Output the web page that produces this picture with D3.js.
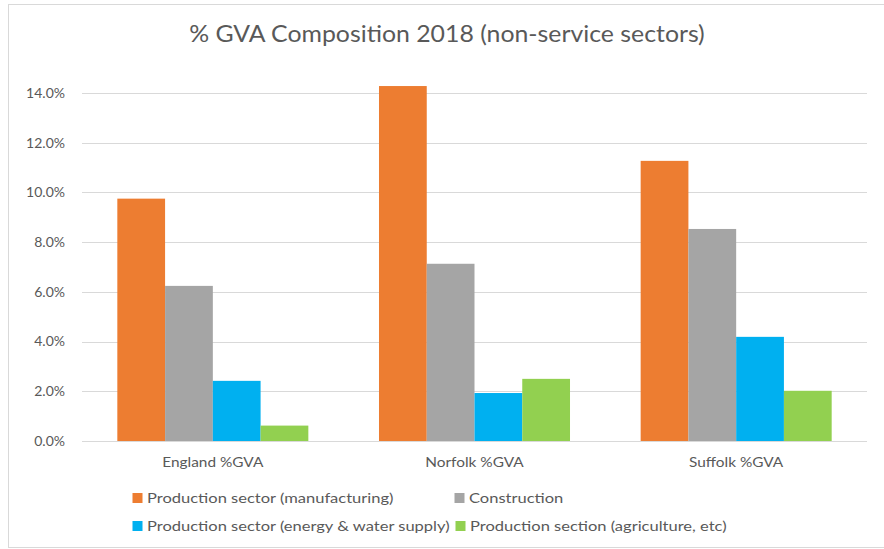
<!DOCTYPE html>
<html><head><meta charset="utf-8">
<script src="https://cdn.jsdelivr.net/npm/d3@7"></script>
<style>
html,body{margin:0;padding:0;background:#fff;}
svg text{font-family:Lato,"Open Sans",sans-serif;fill:#595959;}
</style></head>
<body><svg id="c" width="884" height="549"></svg>
<script>
const categories = ["England %GVA", "Norfolk %GVA", "Suffolk %GVA"];
const seriesNames = ["Production sector (manufacturing)", "Construction", "Production sector (energy & water supply)", "Production section (agriculture, etc)"];
const manufacturing = [9.75, 14.28, 11.27];
const construction = [6.24, 7.13, 8.53];
const energy = [2.42, 1.93, 4.19];
const agriculture = [0.62, 2.50, 2.02];
const yTicks = [0, 2, 4, 6, 8, 10, 12, 14];
const colors = ["#ED7D31", "#A5A5A5", "#00B0F0", "#92D050"];
const series = [manufacturing, construction, energy, agriculture];

(function(){
const svg = d3.select("#c");
svg.append("rect").attr("x",8.5).attr("y",4.5).attr("width",884).attr("height",543)
  .attr("fill","none").attr("stroke","#D9D9D9").attr("stroke-width",1);

const pL=82, pR=867, pT=93, pB=441;
const y = d3.scaleLinear().domain([0,14]).range([pB, pT]);
const x0 = d3.scaleBand().domain(categories).range([pL,pR]).paddingInner(0.27).paddingOuter(0.135);
const x1 = d3.scaleBand().domain(d3.range(series.length)).range([0, x0.bandwidth()]);

svg.append("g").selectAll("line").data(yTicks).join("line")
  .attr("x1",pL).attr("x2",pR)
  .attr("y1",d=>Math.round(y(d))+0.5).attr("y2",d=>Math.round(y(d))+0.5)
  .attr("stroke","#D9D9D9").attr("stroke-width",1);

svg.append("g").selectAll("text").data(yTicks).join("text")
  .attr("x",65).attr("y",d=>y(d)).attr("dy","0.35em").attr("text-anchor","end")
  .attr("font-size",14).text(d=>d3.format(".1f")(d)+"%");

const g = svg.append("g");
categories.forEach((c,i)=>{
  series.forEach((s,j)=>{
    g.append("rect").attr("x",x0(c)+x1(j)).attr("width",x1.bandwidth())
      .attr("y",y(s[i])).attr("height",y(0)-y(s[i])).attr("fill",colors[j]);
  });
});

svg.append("g").selectAll("text").data(categories).join("text")
  .attr("transform",d=>`translate(${x0(d)+x0.bandwidth()/2},467) scale(1.1,1)`)
  .attr("text-anchor","middle")
  .attr("font-size",14).text(d=>d);

svg.append("text").attr("transform","translate(447,42) scale(1.08,1)").attr("text-anchor","middle")
  .attr("font-size",23).text("% GVA Composition 2018 (non-service sectors)");

const legPos = [[132.5,503],[454.5,503],[132.5,531],[455.5,531]];
seriesNames.forEach((n,j)=>{
  const [lx,ly]=legPos[j];
  svg.append("rect").attr("x",lx).attr("y",ly-10).attr("width",10).attr("height",10).attr("fill",colors[j]);
  svg.append("text").attr("transform",`translate(${lx+14.5},${ly}) scale(1.18,1)`)
    .attr("font-size",14).text(n);
});
})();
</script></body></html>
